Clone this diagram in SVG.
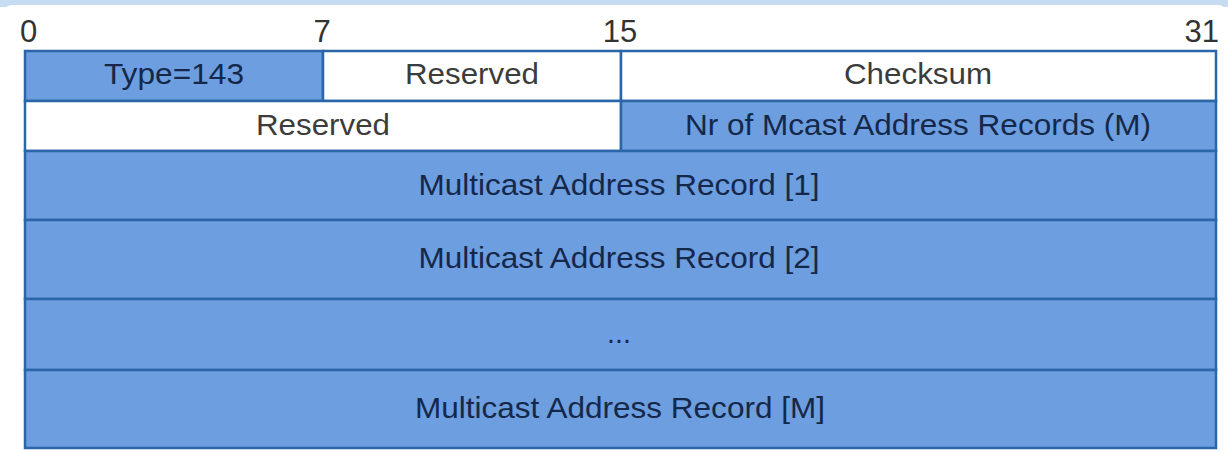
<svg xmlns="http://www.w3.org/2000/svg" width="1228" height="453" viewBox="0 0 1228 453">
  <style>
    .blue { fill: #6c9ee0; stroke: #2a66a8; stroke-width: 2.5; }
    .white { fill: #ffffff; stroke: #2a66a8; stroke-width: 2.5; }
    .lbl { font-family: "Liberation Sans", Arial, sans-serif; font-size: 29px; text-anchor: middle; }
    .onblue { fill: #15284a; }
    .onwhite { fill: #3c3c3c; }
    .bit { font-family: "Liberation Sans", Arial, sans-serif; font-size: 31px; fill: #333333; }
  </style>
  <rect x="0" y="0" width="1228" height="453" fill="#ffffff"/>
  <rect x="0" y="0" width="1228" height="7" fill="#c6dcf2"/>
  <rect x="2" y="5" width="1226" height="460" rx="10" fill="#ffffff"/>

  <g id="bit-scale">
    <text class="bit" x="20" y="42">0</text>
    <text class="bit" x="322" y="42" text-anchor="middle">7</text>
    <text class="bit" x="620" y="42" text-anchor="middle">15</text>
    <text class="bit" x="1219" y="42" text-anchor="end">31</text>
  </g>

  <g id="type">
    <rect class="blue" x="25" y="51" width="298" height="50"/>
    <text class="lbl onblue" x="174" y="84" textLength="140" lengthAdjust="spacingAndGlyphs">Type=143</text>
  </g>
  <g id="reserved1">
    <rect class="white" x="323" y="51" width="298" height="50"/>
    <text class="lbl onwhite" x="472" y="84" textLength="134" lengthAdjust="spacingAndGlyphs">Reserved</text>
  </g>
  <g id="checksum">
    <rect class="white" x="621" y="51" width="595" height="50"/>
    <text class="lbl onwhite" x="918" y="84" textLength="148" lengthAdjust="spacingAndGlyphs">Checksum</text>
  </g>
  <g id="reserved2">
    <rect class="white" x="25" y="101" width="596" height="50"/>
    <text class="lbl onwhite" x="323" y="135" textLength="134" lengthAdjust="spacingAndGlyphs">Reserved</text>
  </g>
  <g id="nr-records">
    <rect class="blue" x="621" y="101" width="595" height="50"/>
    <text class="lbl onblue" x="918" y="135" textLength="466" lengthAdjust="spacingAndGlyphs">Nr of Mcast Address Records (M)</text>
  </g>
  <g id="record1">
    <rect class="blue" x="25" y="151" width="1191" height="69"/>
    <text class="lbl onblue" x="619" y="195" textLength="401" lengthAdjust="spacingAndGlyphs">Multicast Address Record [1]</text>
  </g>
  <g id="record2">
    <rect class="blue" x="25" y="220" width="1191" height="79"/>
    <text class="lbl onblue" x="619" y="268" textLength="401" lengthAdjust="spacingAndGlyphs">Multicast Address Record [2]</text>
  </g>
  <g id="ellipsis">
    <rect class="blue" x="25" y="299" width="1191" height="71"/>
    <text class="lbl onblue" x="619" y="343" textLength="24" lengthAdjust="spacingAndGlyphs">...</text>
  </g>
  <g id="recordM">
    <rect class="blue" x="25" y="370" width="1191" height="78"/>
    <text class="lbl onblue" x="620" y="418" textLength="410" lengthAdjust="spacingAndGlyphs">Multicast Address Record [M]</text>
  </g>
</svg>
